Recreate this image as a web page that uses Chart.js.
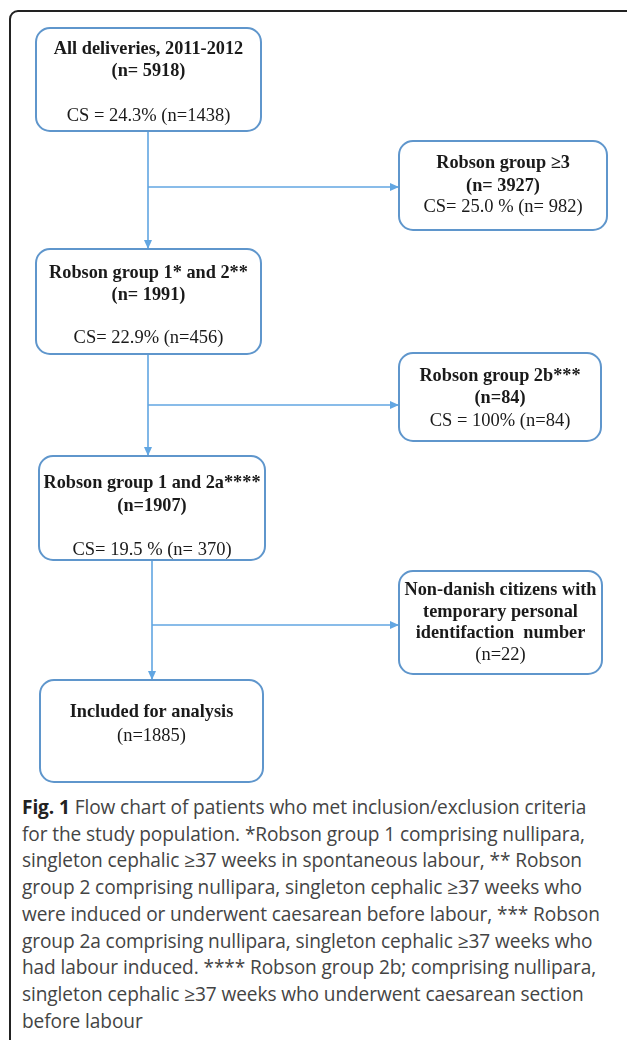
<!DOCTYPE html>
<html>
<head>
<meta charset="utf-8">
<script src="https://cdn.jsdelivr.net/npm/chart.js@4.4.1/dist/chart.umd.min.js"></script>
<style>
  html, body { margin: 0; padding: 0; background: #fff; overflow: hidden; width: 627px; height: 1040px; }
  #marco { position: absolute; left: 9px; top: 10px; width: 660px; height: 1080px; border: 2px solid #222; border-radius: 9px; box-sizing: border-box; }
  #lienzo { position: absolute; left: 0; top: 0; }
  #pie { position: absolute; left: 22px; top: 794px; font-family: 'Open Sans', sans-serif; font-size: 19.1px; line-height: 26.7px; color: #444; white-space: nowrap; letter-spacing: -0.1px; }
  #pie b { color: #222; }
</style>
</head>
<body>
<div id="marco"></div>
<canvas id="lienzo" width="627" height="790"></canvas>
<div id="pie"></div>
<script>
// datos del diagrama
const titulos = [
  'All deliveries, 2011-2012',
  'Robson group \u22653',
  'Robson group 1* and 2**',
  'Robson group 2b***',
  'Robson group 1 and 2a****',
  'Non-danish citizens with\ntemporary personal\nidentifaction  number',
  'Included for analysis'
];
const etiquetasN = ['(n= 5918)', '(n= 3927)', '(n= 1991)', '(n=84)', '(n=1907)', '(n=22)', '(n=1885)'];
const nNegrita = [true, true, true, true, true, false, false];
const etiquetasCS = ['CS = 24.3% (n=1438)', 'CS= 25.0 % (n= 982)', 'CS= 22.9% (n=456)', 'CS = 100% (n=84)', 'CS= 19.5 % (n= 370)', '', ''];

const pieTexto = [
  ['Fig. 1', ' Flow chart of patients who met inclusion/exclusion criteria'],
  ['', 'for the study population. *Robson group 1 comprising nullipara,'],
  ['', 'singleton cephalic \u226537 weeks in spontaneous labour, ** Robson'],
  ['', 'group 2 comprising nullipara, singleton cephalic \u226537 weeks who'],
  ['', 'were induced or underwent caesarean before labour, *** Robson'],
  ['', 'group 2a comprising nullipara, singleton cephalic \u226537 weeks who'],
  ['', 'had labour induced. **** Robson group 2b; comprising nullipara,'],
  ['', 'singleton cephalic \u226537 weeks who underwent caesarean section'],
  ['', 'before labour']
];

// disposicion (unidades de la escala)
const cajas = [
  [36, 28, 261, 131],
  [399, 141, 607, 230],
  [36, 249, 261, 354],
  [399, 353, 601, 441],
  [39, 456, 265, 560],
  [399, 571, 602, 674],
  [40, 680, 263, 782]
];
const filasY = [
  [49, 71, 116],
  [163, 186, 207],
  [273, 295, 338],
  [376, 398, 421],
  [483, 506, 550],
  [590, 612, 633, 655],
  [712, 736]
];
const conectores = [
  [[148, 131], [148, 249]],
  [[148, 187], [399, 187]],
  [[148, 354], [148, 456]],
  [[148, 405], [399, 405]],
  [[152, 560], [152, 680]],
  [[152, 625], [399, 625]]
];

const colorCaja = '#5f96cc';
const colorLinea = '#62a6e2';

let pie = document.getElementById('pie');
pieTexto.forEach(l => {
  let d = document.createElement('div');
  d.innerHTML = (l[0] ? '<b>' + l[0] + '</b>' : '') + l[1];
  pie.appendChild(d);
});

const pluginCajas = {
  id: 'cajas',
  afterDatasetsDraw(chart) {
    const ctx = chart.ctx;
    const sx = chart.scales.x, sy = chart.scales.y;
    ctx.save();
    // puntas de flecha
    conectores.forEach(c => {
      const x1 = sx.getPixelForValue(c[0][0]), y1 = sy.getPixelForValue(c[0][1]);
      const x2 = sx.getPixelForValue(c[1][0]), y2 = sy.getPixelForValue(c[1][1]);
      const ang = Math.atan2(y2 - y1, x2 - x1);
      ctx.fillStyle = colorLinea;
      ctx.beginPath();
      ctx.moveTo(x2, y2);
      ctx.lineTo(x2 - 9 * Math.cos(ang) + 4 * Math.sin(ang), y2 - 9 * Math.sin(ang) - 4 * Math.cos(ang));
      ctx.lineTo(x2 - 9 * Math.cos(ang) - 4 * Math.sin(ang), y2 - 9 * Math.sin(ang) + 4 * Math.cos(ang));
      ctx.closePath();
      ctx.fill();
    });
    // cajas
    cajas.forEach((b, i) => {
      const x0 = sx.getPixelForValue(b[0]), y0 = sy.getPixelForValue(b[1]);
      const x1 = sx.getPixelForValue(b[2]), y1 = sy.getPixelForValue(b[3]);
      ctx.fillStyle = '#fff';
      ctx.strokeStyle = colorCaja;
      ctx.lineWidth = 2;
      ctx.beginPath();
      ctx.roundRect(x0, y0, x1 - x0, y1 - y0, 14);
      ctx.fill();
      ctx.stroke();

      let lineas = titulos[i].split('\n').map(t => [t, true]);
      lineas.push([etiquetasN[i], nNegrita[i]]);
      if (etiquetasCS[i]) lineas.push([etiquetasCS[i], false]);
      const cx = (x0 + x1) / 2;
      ctx.fillStyle = '#1a1a1a';
      ctx.textAlign = 'center';
      ctx.textBaseline = 'middle';
      lineas.forEach((l, j) => {
        ctx.font = (l[1] ? 'bold 18.3px' : '18.5px') + ' "Liberation Serif", serif';
        ctx.fillText(l[0], cx, sy.getPixelForValue(filasY[i][j]));
      });
    });
    ctx.restore();
  }
};

new Chart(document.getElementById('lienzo'), {
  type: 'scatter',
  data: {
    datasets: conectores.map(c => ({
      data: c.map(p => ({ x: p[0], y: p[1] })),
      showLine: true,
      borderColor: colorLinea,
      borderWidth: 1.6,
      pointRadius: 0
    }))
  },
  options: {
    responsive: false,
    animation: false,
    devicePixelRatio: 1,
    layout: { padding: 0 },
    plugins: { legend: { display: false }, tooltip: { enabled: false } },
    scales: {
      x: { type: 'linear', min: 0, max: 627, display: false },
      y: { type: 'linear', min: 0, max: 790, reverse: true, display: false }
    }
  },
  plugins: [pluginCajas]
});
</script>
</body>
</html>
